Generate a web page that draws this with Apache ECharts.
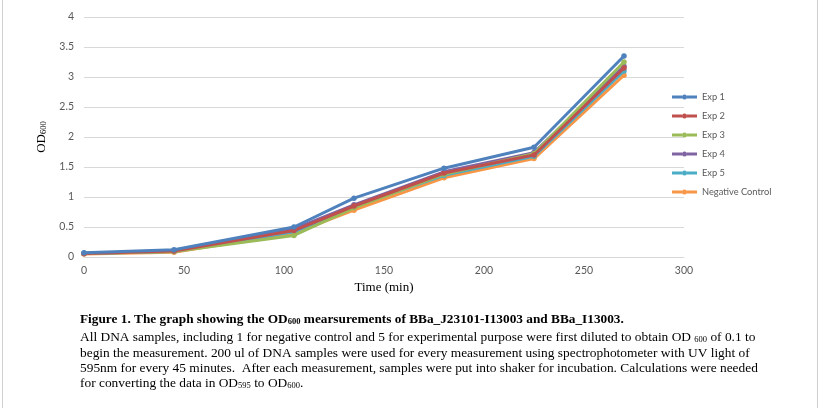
<!DOCTYPE html>
<html><head><meta charset="utf-8">
<script src="https://cdn.jsdelivr.net/npm/echarts@6/dist/echarts.min.js"></script>
<style>html,body{margin:0;padding:0;background:#fff}#c{width:820px;height:408px}</style>
</head><body><div id="c"></div>
<script>
const times = [0, 45, 105, 135, 180, 225, 270];
const seriesNames = ['Exp 1', 'Exp 2', 'Exp 3', 'Exp 4', 'Exp 5', 'Negative Control'];
const exp1 = [0.07, 0.12, 0.50, 0.98, 1.48, 1.83, 3.35];
const exp2 = [0.06, 0.10, 0.44, 0.85, 1.40, 1.70, 3.15];
const exp3 = [0.06, 0.09, 0.36, 0.82, 1.38, 1.72, 3.25];
const exp4 = [0.06, 0.10, 0.47, 0.87, 1.42, 1.74, 3.18];
const exp5 = [0.06, 0.09, 0.42, 0.84, 1.36, 1.68, 3.10];
const negControl = [0.05, 0.08, 0.40, 0.78, 1.32, 1.64, 3.03];
const xTicks = [0, 50, 100, 150, 200, 250, 300];
const yTicks = [0, 0.5, 1, 1.5, 2, 2.5, 3, 3.5, 4];
const colors = ['#4F81BD', '#C0504D', '#9BBB59', '#8064A2', '#4BACC6', '#F79646'];
const allValues = [exp1, exp2, exp3, exp4, exp5, negControl];

const chart = echarts.init(document.getElementById('c'), null, {renderer: 'canvas'});
const serif = '"Liberation Serif", "Times New Roman", serif';
const sans = 'Lato, "Open Sans", "Liberation Sans", sans-serif';
const legendIcon = 'path://M0,1.5 L10,1.5 L10,4.5 L0,4.5 Z M15,1.5 L25,1.5 L25,4.5 L15,4.5 Z M10,3 A2.5,2.5 0 1,1 15,3 A2.5,2.5 0 1,1 10,3 Z';

const series = seriesNames.map((n, i) => ({
  name: n,
  type: 'line',
  data: times.map((t, j) => [t, allValues[i][j]]),
  symbol: 'circle',
  symbolSize: 5.5,
  lineStyle: {width: 3, color: colors[i]},
  itemStyle: {color: colors[i]},
  z: 10 - i
}));

const captionRich = {
  b: {fontFamily: serif, fontSize: 13.3, fontWeight: 'bold', color: '#000'},
  bs: {fontFamily: serif, fontSize: 8.5, fontWeight: 'bold', color: '#000', padding: [4, 0, 0, 0]},
  n: {fontFamily: serif, fontSize: 13.4, color: '#000'},
  s: {fontFamily: serif, fontSize: 8.5, color: '#000', padding: [4, 0, 0, 0]}
};
function capLine(y, text) {
  return {type: 'text', left: 80, top: y, style: {text: text, rich: captionRich}};
}

chart.setOption({
  animation: false,
  color: colors,
  grid: {left: 84, right: 136, top: 17, bottom: 151, containLabel: false},
  xAxis: {
    type: 'value', min: 0, max: 300, interval: 50,
    name: 'Time (min)', nameLocation: 'middle', nameGap: 18,
    nameTextStyle: {fontFamily: serif, fontSize: 13, color: '#000'},
    axisLine: {show: true, lineStyle: {color: '#d9d9d9', width: 1}},
    axisTick: {show: false},
    axisLabel: {color: '#595959', fontSize: 10.5, fontFamily: sans, margin: 8,
      formatter: v => xTicks.includes(v) ? String(v) : ''},
    splitLine: {show: false}
  },
  yAxis: {
    type: 'value', min: 0, max: 4, interval: 0.5,
    name: '{a|OD}{s|600}', nameLocation: 'middle', nameGap: 31, nameRotate: 90,
    nameTextStyle: {rich: {
      a: {fontFamily: serif, fontSize: 13, color: '#000'},
      s: {fontFamily: serif, fontSize: 8.5, color: '#000', padding: [3, 0, 0, 0]}
    }},
    axisLine: {show: false},
    axisTick: {show: false},
    axisLabel: {color: '#595959', fontSize: 10.5, fontFamily: sans, margin: 10,
      formatter: v => yTicks.includes(v) ? String(v) : ''},
    splitLine: {show: true, lineStyle: {color: '#d9d9d9', width: 1}}
  },
  legend: {
    orient: 'vertical', left: 672, top: 91, padding: 0,
    itemWidth: 25, itemHeight: 6, itemGap: 7,
    icon: legendIcon,
    textStyle: {color: '#595959', fontSize: 9.3, fontFamily: sans, lineHeight: 12},
    data: seriesNames
  },
  series: series,
  graphic: [
    {type: 'line', shape: {x1: 2.5, y1: 0, x2: 2.5, y2: 408}, style: {stroke: '#d0d0d0', lineWidth: 1}},
    {type: 'line', shape: {x1: 817.5, y1: 0, x2: 817.5, y2: 408}, style: {stroke: '#d0d0d0', lineWidth: 1}},
    capLine(313, '{b|Figure 1. The graph showing the OD}{bs|600}{b| mearsurements of BBa_J23101-I13003 and BBa_I13003.}'),
    capLine(331, '{n|All DNA samples, including 1 for negative control and 5 for experimental purpose were first diluted to obtain OD }{s|600}{n| of 0.1 to}'),
    capLine(347, '{n|begin the measurement. 200 ul of DNA samples were used for every measurement using spectrophotometer with UV light of}'),
    capLine(362, '{n|595nm for every 45 minutes.  After each measurement, samples were put into shaker for incubation. Calculations were needed}'),
    capLine(377, '{n|for converting the data in OD}{s|595}{n| to OD}{s|600}{n|.}')
  ]
});
</script>
</body></html>
